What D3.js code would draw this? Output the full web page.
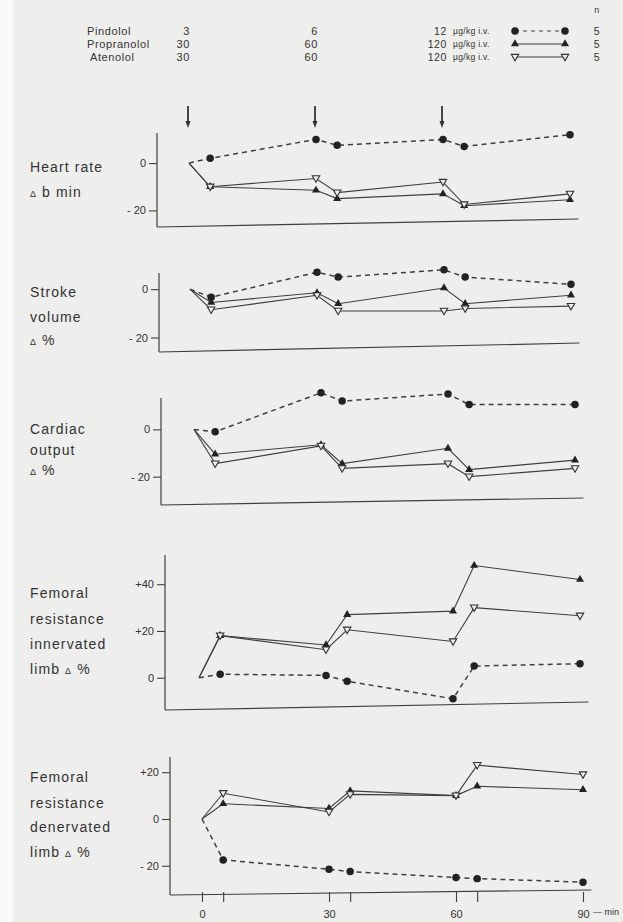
<!DOCTYPE html>
<html>
<head>
<meta charset="utf-8">
<script src="https://cdn.jsdelivr.net/npm/d3@7"></script>
<style>
body { margin: 0; background: #eeeeec; }
svg { display: block; font-family: "Liberation Sans", Arial, sans-serif; }
</style>
</head>
<body>
<svg id="chart"></svg>
<script>
// sampling times in min, doses given at 0 / 30 / 60
var times = [0, 5, 30, 35, 60, 65, 90];
var doseTimes = [0, 30, 60];
var axisTicks = [0, 5, 30, 35, 60, 65, 90];
var axisLabels = ["0", "30", "60", "90"];

// header table
var drugs = ["Pindolol", "Propranolol", "Atenolol"];
var dose1 = ["3", "30", "30"];
var dose2 = ["6", "60", "60"];
var infusion = ["12", "120", "120"];
var infusionUnit = ["µg/kg i.v.", "µg/kg i.v.", "µg/kg i.v."];
var nAnimals = ["5", "5", "5"];

// values, change from baseline
var heartPindolol    = [0, 2, 10, 7.5, 10, 7, 12];
var heartPropranolol = [0, -10, -11.5, -15, -13, -18, -15.5];
var heartAtenolol    = [0, -10, -6.5, -12.5, -8, -17.5, -13];

var strokePindolol    = [0, -3.3, 7, 5, 8, 5, 2];
var strokePropranolol = [0, -5.5, -1.5, -6, 0.5, -6, -2.5];
var strokeAtenolol    = [0, -8.5, -2.5, -9, -9, -8, -7];

var outputPindolol    = [0, -1, 15.5, 12, 15, 10.5, 10.5];
var outputPropranolol = [0, -10.5, -6.5, -14.5, -8, -17, -13];
var outputAtenolol    = [0, -14.5, -7, -16.5, -14.5, -20, -16.5];

var innervPindolol    = [0, 1.5, 1, -1.5, -9, 5, 6];
var innervPropranolol = [0, 18, 14, 27, 28.5, 48, 42];
var innervAtenolol    = [0, 18, 12, 20.5, 15.5, 30, 26.5];

var denervPindolol    = [0, -17.5, -21.5, -22.5, -25, -25.5, -27];
var denervPropranolol = [0, 6.5, 4.5, 12, 10, 14, 12.5];
var denervAtenolol    = [0, 11, 3, 10.5, 10, 23, 19];

var panelTitles = [
    ["Heart rate", "Δ b min"],
    ["Stroke", "volume", "Δ %"],
    ["Cardiac", "output", "Δ %"],
    ["Femoral", "resistance", "innervated", "limb   Δ %"],
    ["Femoral", "resistance", "denervated", "limb   Δ %"]
];
var panelTicks = [[0, -20], [0, -20], [0, -20], [0, 20, 40], [20, 0, -20]];

var panelSeries = [
    [heartPindolol, heartPropranolol, heartAtenolol],
    [strokePindolol, strokePropranolol, strokeAtenolol],
    [outputPindolol, outputPropranolol, outputAtenolol],
    [innervPindolol, innervPropranolol, innervAtenolol],
    [denervPindolol, denervPropranolol, denervAtenolol]
];

// page layout of each panel (pixels), the scan is a bit skewed
var layout = [
    { x0: 189, axisX: 157, top: 133, bottom: 227, tilt: 8, lo: -27, hi: 12.7, labelY: [167, 192] },
    { x0: 190, axisX: 159, top: 273, bottom: 352, tilt: 9, lo: -26, hi: 6.7, labelY: [292, 317, 340] },
    { x0: 194, axisX: 161, top: 398, bottom: 505, tilt: 7, lo: -32, hi: 13.3, labelY: [429, 450, 470] },
    { x0: 199, axisX: 165, top: 555, bottom: 710, tilt: 8, lo: -13.8, hi: 52.5, labelY: [593, 619, 644, 669] },
    { x0: 202, axisX: 170, top: 757, bottom: 895, tilt: 5, lo: -32.5, hi: 26.5, labelY: [777, 803, 827, 852] }
];
var minutePx = 381 / 90;

var ink = "#3f3f3f";
var paper = "#eeeeec";

var svg = d3.select("#chart")
    .attr("width", 623)
    .attr("height", 922);

svg.append("rect").attr("width", 623).attr("height", 922).attr("fill", paper);
svg.append("rect").attr("width", 13).attr("height", 922).attr("fill", "#fafafa");

// marker for each series
var symPindolol = d3.symbol().type(d3.symbolCircle).size(44);
var symPropranolol = d3.symbol().type(d3.symbolTriangle).size(28);
var symAtenolol = d3.symbol().type(d3.symbolTriangle).size(24);

function drawMarker(g, x, y, k) {
    if (k == 0) {
        g.append("path").attr("d", symPindolol()).attr("transform", "translate(" + x + "," + y + ")")
            .attr("fill", "#222");
    } else if (k == 1) {
        g.append("path").attr("d", symPropranolol()).attr("transform", "translate(" + x + "," + y + ")")
            .attr("fill", "#222");
    } else {
        g.append("path").attr("d", symAtenolol()).attr("transform", "translate(" + x + "," + (y - 0.5) + ") rotate(180)")
            .attr("fill", paper).attr("stroke", "#333").attr("stroke-width", 1.1);
    }
}

function tickText(v) {
    if (v > 0) return "+" + v;
    if (v < 0) return "- " + (-v);
    return "0";
}

// header ---------------------------------------------------------------
var headY = [31, 44, 57];
var head = svg.append("g").attr("fill", "#333").attr("font-size", 11).attr("letter-spacing", 0.6);
drugs.forEach(function (d, i) {
    head.append("text").attr("x", i == 2 ? 90 : 87).attr("y", headY[i]).attr("dy", "0.35em").text(d);
    head.append("text").attr("x", 190).attr("y", headY[i]).attr("dy", "0.35em").attr("text-anchor", "end").text(dose1[i]);
    head.append("text").attr("x", 318).attr("y", headY[i]).attr("dy", "0.35em").attr("text-anchor", "end").text(dose2[i]);
    head.append("text").attr("x", 447).attr("y", headY[i]).attr("dy", "0.35em").attr("text-anchor", "end")
        .attr("font-size", 10.5).text(infusion[i]);
    head.append("text").attr("x", 453).attr("y", headY[i]).attr("dy", "0.35em")
        .attr("font-size", 8.5).attr("letter-spacing", 0.3).text(infusionUnit[i]);
    head.append("text").attr("x", 597).attr("y", headY[i]).attr("dy", "0.35em").attr("text-anchor", "middle")
        .attr("font-size", 10.5).text(nAnimals[i]);

    head.append("line")
        .attr("x1", 515).attr("x2", 565).attr("y1", headY[i]).attr("y2", headY[i])
        .attr("stroke", ink).attr("stroke-width", 1.1)
        .attr("stroke-dasharray", i == 0 ? "4,4" : null);
    drawMarker(head, 515, headY[i], i);
    drawMarker(head, 565, headY[i], i);
});
head.append("text").attr("x", 597).attr("y", 13).attr("text-anchor", "middle").attr("font-size", 9).text("n");

// panels ---------------------------------------------------------------
var line = d3.line();

layout.forEach(function (L, p) {
    var g = svg.append("g");
    var x = d3.scaleLinear().domain([0, 90]).range([L.x0, L.x0 + 90 * minutePx]);
    var y = d3.scaleLinear().domain([L.lo, L.hi]).range([L.bottom, L.top]);

    // frame
    g.append("line").attr("x1", L.axisX).attr("x2", L.axisX).attr("y1", L.top).attr("y2", L.bottom)
        .attr("stroke", ink).attr("stroke-width", 1.2);
    g.append("line").attr("x1", L.axisX).attr("x2", x(92)).attr("y1", L.bottom).attr("y2", L.bottom - L.tilt)
        .attr("stroke", ink).attr("stroke-width", 1.2);

    // y ticks
    var yAxis = g.append("g")
        .attr("transform", "translate(" + L.axisX + ",0)")
        .call(d3.axisLeft(y).tickValues(panelTicks[p]).tickSize(8).tickPadding(3).tickFormat(tickText));
    yAxis.select(".domain").remove();
    yAxis.selectAll("line").attr("stroke", ink).attr("stroke-width", 1.1);
    yAxis.selectAll("text").attr("fill", "#333").attr("font-size", 11)
        .attr("font-family", "Liberation Sans, Arial, sans-serif");

    // panel label
    panelTitles[p].forEach(function (t, i) {
        var txt = g.append("text").attr("x", 30).attr("y", L.labelY[i]).attr("dy", "0.35em")
            .attr("fill", "#333").attr("font-size", 14).attr("letter-spacing", 1.1);
        if (t.indexOf("Δ") >= 0) {
            var parts = t.split("Δ");
            txt.append("tspan").text(parts[0]);
            txt.append("tspan").attr("font-size", 9).text("Δ");
            txt.append("tspan").text(parts[1]);
        } else {
            txt.text(t);
        }
    });

    // series: solid ones first, dashed pindolol on top
    [1, 2, 0].forEach(function (k) {
        var vals = panelSeries[p][k];
        var pts = times.map(function (t, i) { return [x(t), y(vals[i])]; });
        g.append("path").attr("d", line(pts))
            .attr("fill", "none").attr("stroke", ink)
            .attr("stroke-width", k == 0 ? 1.5 : 1.1)
            .attr("stroke-dasharray", k == 0 ? "5,4" : null);
    });
    [1, 2, 0].forEach(function (k) {
        var vals = panelSeries[p][k];
        times.forEach(function (t, i) {
            if (t == 0) return;
            drawMarker(g, x(t), y(vals[i]), k);
        });
    });

    // dose arrows above the first panel
    if (p == 0) {
        doseTimes.forEach(function (t) {
            var ax = x(t) - 1;
            g.append("line").attr("x1", ax).attr("x2", ax).attr("y1", 106).attr("y2", 124)
                .attr("stroke", "#333").attr("stroke-width", 1.8);
            g.append("path").attr("d", "M" + (ax - 2.5) + ",121L" + (ax + 2.5) + ",121L" + ax + ",128Z")
                .attr("fill", "#333");
        });
    }

    // time axis under the last panel
    if (p == layout.length - 1) {
        var xAxis = g.append("g")
            .attr("transform", "translate(0," + (L.bottom - 3) + ")")
            .call(d3.axisBottom(x).tickValues(axisTicks).tickSize(10).tickPadding(8)
                .tickFormat(function (d) {
                    var i = [0, 30, 60, 90].indexOf(d);
                    return i >= 0 ? axisLabels[i] : "";
                }));
        xAxis.select(".domain").remove();
        xAxis.selectAll("line").attr("stroke", ink).attr("stroke-width", 1.1);
        xAxis.selectAll("text").attr("fill", "#333").attr("font-size", 11)
            .attr("font-family", "Liberation Sans, Arial, sans-serif");
        g.append("text").attr("x", x(90) + 10).attr("y", L.bottom + 20)
            .attr("fill", "#333").attr("font-size", 9).text("— min");
    }
});
</script>
</body>
</html>
